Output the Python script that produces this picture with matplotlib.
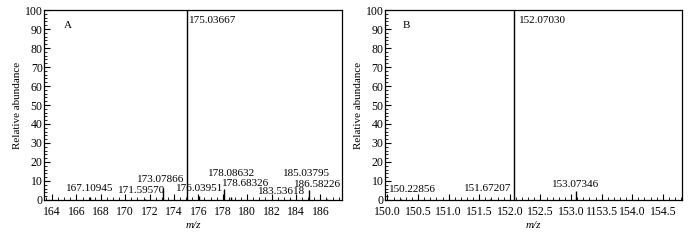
import matplotlib
matplotlib.use('Agg')
import matplotlib.pyplot as plt
from matplotlib.ticker import MultipleLocator, FixedLocator, FixedFormatter

plt.rcParams['font.family'] = ['Liberation Serif', 'DejaVu Serif']
plt.rcParams['font.size'] = 8

# spectrum A
a_mz = [167.10945, 171.59570, 173.07866, 175.03667, 176.03951, 178.08632, 178.68326, 183.53618, 185.03795, 186.58226]
a_int = [1.5, 0.5, 6.5, 100, 2.0, 6.0, 1.5, 0.5, 5.0, 0.5]
a_labels = ['167.10945', '171.59570', '173.07866', '175.03667', '176.03951',
            '178.08632', '178.68326', '183.53618', '185.03795', '186.58226']
# label anchor positions (x, y) in data units
a_label_x = [167.1, 171.35, 172.9, 175.2, 176.1, 178.73, 179.9, 182.8, 184.84, 185.8]
a_label_y = [6.1, 4.9, 10.9, 94.7, 6.1, 13.7, 8.8, 4.4, 14.0, 8.3]

# spectrum B
b_mz = [150.22856, 151.67207, 152.07030, 153.07346]
b_int = [0.3, 0.3, 100, 4.5]
b_labels = ['150.22856', '151.67207', '152.07030', '153.07346']
b_label_x = [150.41, 151.64, 152.15, 153.07]
b_label_y = [5.3, 6.1, 94.4, 8.3]
b_ticks = [150.0, 150.5, 151.0, 151.5, 152.0, 152.5, 153.0, 153.5, 154.0, 154.5]
b_tick_labels = ['150.0', '150.5', '151.0', '151.5', '152.0', '152.5', '153.0', '1153.5', '154.0', '154.5']


def style_axes(ax):
    ax.set_ylim(0, 100)
    ax.yaxis.set_major_locator(MultipleLocator(10))
    ax.yaxis.set_minor_locator(MultipleLocator(2))
    ax.tick_params(which='both', direction='in', top=False, right=False)
    ax.tick_params(axis='y', pad=1)
    ax.tick_params(axis='x', pad=4.5)
    ax.tick_params(which='major', length=4, width=0.8, labelsize=8.5)
    ax.tick_params(which='minor', length=2, width=0.6)
    for s in ax.spines.values():
        s.set_linewidth(0.9)
    ax.set_ylabel('Relative abundance', labelpad=2)
    ax.set_xlabel('m/z', style='italic', labelpad=2)


fig = plt.figure(figsize=(7, 2.4), dpi=100)
ax1 = fig.add_axes([0.063, 0.167, 0.426, 0.791])
ax2 = fig.add_axes([0.55, 0.167, 0.424, 0.791])

# A
ax1.vlines(a_mz, 0, a_int, color='black', linewidth=1)
for x, y, t in zip(a_label_x, a_label_y, a_labels):
    ha = 'left' if t == '175.03667' else 'center'
    ax1.text(x, y, t, ha=ha, va='center', fontsize=8)
ax1.text(165.3, 91.7, 'A', ha='center', va='center', fontsize=8)
ax1.set_xlim(163.35, 187.8)
ax1.xaxis.set_major_locator(MultipleLocator(2))
ax1.xaxis.set_minor_locator(MultipleLocator(0.5))
style_axes(ax1)

# B
ax2.vlines(b_mz, 0, b_int, color='black', linewidth=1)
for x, y, t in zip(b_label_x, b_label_y, b_labels):
    ha = 'left' if t == '152.07030' else 'center'
    ax2.text(x, y, t, ha=ha, va='center', fontsize=8)
ax2.text(150.31, 91.7, 'B', ha='center', va='center', fontsize=8)
ax2.set_xlim(149.96, 154.81)
ax2.xaxis.set_major_locator(FixedLocator(b_ticks))
ax2.xaxis.set_major_formatter(FixedFormatter(b_tick_labels))
ax2.xaxis.set_minor_locator(MultipleLocator(0.1))
style_axes(ax2)

fig.savefig('out.png', dpi=100)
